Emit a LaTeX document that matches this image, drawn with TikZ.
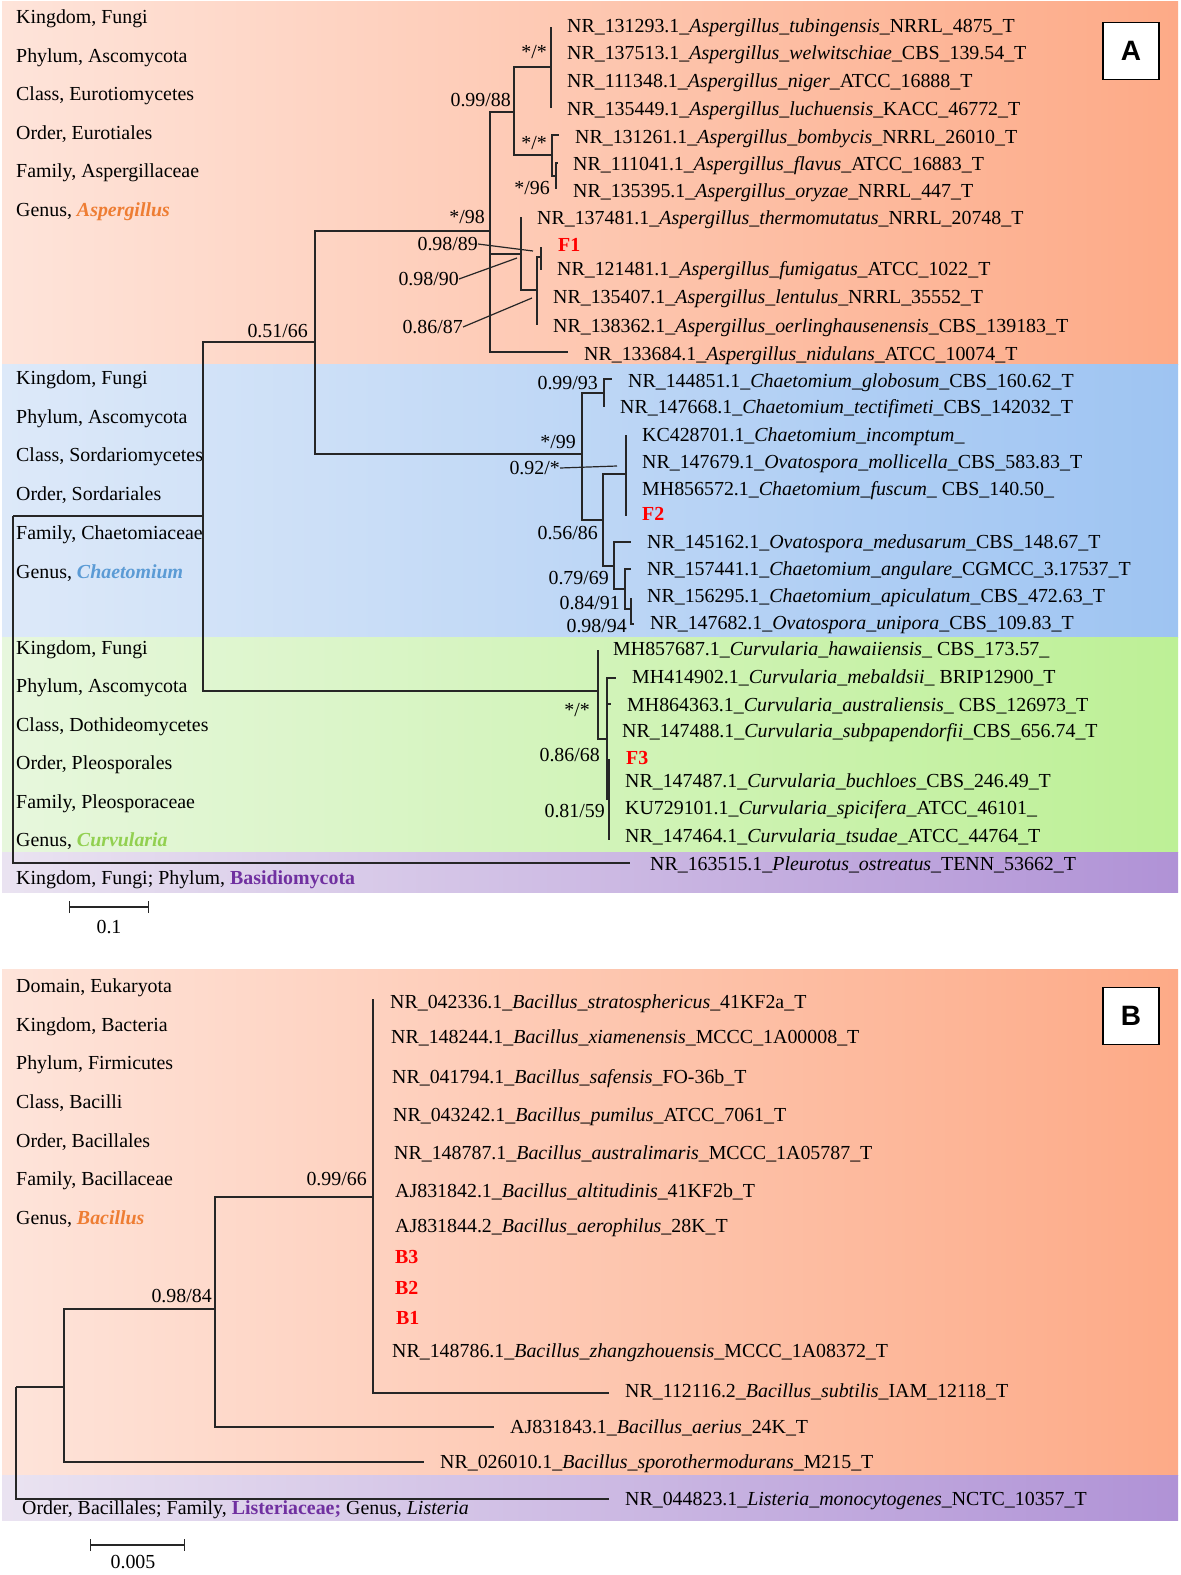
\documentclass[tikz,border=0pt]{standalone}
\usepackage{fontspec}
\setmainfont{Liberation Serif}
\newfontfamily\panelfont{Liberation Sans}
\usetikzlibrary{arrows.meta}
\definecolor{orL}{HTML}{FEE4DA}
\definecolor{orR}{HTML}{FDAA87}
\definecolor{blL}{HTML}{DDE9F9}
\definecolor{blR}{HTML}{9EC4F2}
\definecolor{grL}{HTML}{E7F7DD}
\definecolor{grR}{HTML}{BDF096}
\definecolor{puL}{HTML}{EAE3F1}
\definecolor{puR}{HTML}{B092D6}
\definecolor{tOr}{HTML}{EE7D33}
\definecolor{tBl}{HTML}{5B9BD5}
\definecolor{tGr}{HTML}{92D050}
\definecolor{tPu}{HTML}{7030A0}
\definecolor{tRd}{HTML}{FF0000}
\newcommand{\gen}[2]{\textbf{\textit{\textcolor{#1}{#2}}}}
\begin{document}
\begin{tikzpicture}[x=1pt,y=-1pt,
 font=\fontsize{19.9}{23}\selectfont,
 br/.style={line width=1.3pt,draw=black!85},
 lf/.style={anchor=west,inner sep=0pt,text height=12.8pt,text depth=0pt},
 sv/.style={anchor=east,inner sep=0pt,text height=12.8pt,text depth=0pt},
 iso/.style={lf,text=tRd,font=\fontsize{19.9}{23}\selectfont\bfseries},
 ptr/.style={line width=1.2pt,draw=black!85},
 panel/.style={draw=black,line width=1.5pt,fill=white,minimum width=56pt,minimum height=57pt,inner sep=0pt,font=\panelfont\fontsize{28}{30}\selectfont\bfseries}
]
\useasboundingbox (0,0) rectangle (1181,1575);
\fill[white] (0,0) rectangle (1181,1575);
% ---------- bands A ----------
\shade[left color=orL,right color=orR] (2,1) rectangle (1178,364);
\shade[left color=blL,right color=blR] (2,364) rectangle (1178,637);
\shade[left color=grL,right color=grR] (2,637) rectangle (1178,852);
\shade[left color=puL,right color=puR] (2,852) rectangle (1178,892);
\node[panel] (pA) at (1131,51) {A};
% ---------- taxonomy text A ----------
\node[lf] (ta1) at (16,17) {Kingdom, Fungi};
\node[lf] (ta2) at (16,56) {Phylum, Ascomycota};
\node[lf] (ta3) at (16,94) {Class, Eurotiomycetes};
\node[lf] (ta4) at (16,133) {Order, Eurotiales};
\node[lf] (ta5) at (16,171) {Family, Aspergillaceae};
\node[lf] (ta6) at (16,210) {Genus, \gen{tOr}{Aspergillus}};
\node[lf] (tb1) at (16,378) {Kingdom, Fungi};
\node[lf] (tb2) at (16,417) {Phylum, Ascomycota};
\node[lf] (tb3) at (16,455) {Class, Sordariomycetes};
\node[lf] (tb4) at (16,494) {Order, Sordariales};
\node[lf] (tb5) at (16,533) {Family, Chaetomiaceae};
\node[lf] (tb6) at (16,572) {Genus, \gen{tBl}{Chaetomium}};
\node[lf] (tc1) at (16,648) {Kingdom, Fungi};
\node[lf] (tc2) at (16,686) {Phylum, Ascomycota};
\node[lf] (tc3) at (16,725) {Class, Dothideomycetes};
\node[lf] (tc4) at (16,763) {Order, Pleosporales};
\node[lf] (tc5) at (16,802) {Family, Pleosporaceae};
\node[lf] (tc6) at (16,840) {Genus, \gen{tGr}{Curvularia}};
\node[lf] (td1) at (16,878) {Kingdom, Fungi; Phylum, \textbf{\textcolor{tPu}{Basidiomycota}}};
% ---------- leaves A ----------
\node[lf] (L1) at (567,26) {NR\_131293.1\_\textit{Aspergillus\_tubingensis}\_NRRL\_4875\_T};
\node[lf] (L2) at (567,53) {NR\_137513.1\_\textit{Aspergillus\_welwitschiae}\_CBS\_139.54\_T};
\node[lf] (L3) at (567,81) {NR\_111348.1\_\textit{Aspergillus\_niger}\_ATCC\_16888\_T};
\node[lf] (L4) at (567,109) {NR\_135449.1\_\textit{Aspergillus\_luchuensis}\_KACC\_46772\_T};
\node[lf] (L5) at (575,137) {NR\_131261.1\_\textit{Aspergillus\_bombycis}\_NRRL\_26010\_T};
\node[lf] (L6) at (573,164) {NR\_111041.1\_\textit{Aspergillus\_flavus}\_ATCC\_16883\_T};
\node[lf] (L7) at (573,191) {NR\_135395.1\_\textit{Aspergillus\_oryzae}\_NRRL\_447\_T};
\node[lf] (L8) at (537,218) {NR\_137481.1\_\textit{Aspergillus\_thermomutatus}\_NRRL\_20748\_T};
\node[iso] (F1) at (558,245) {F1};
\node[lf] (L10) at (557,269) {NR\_121481.1\_\textit{Aspergillus\_fumigatus}\_ATCC\_1022\_T};
\node[lf] (L11) at (553,297) {NR\_135407.1\_\textit{Aspergillus\_lentulus}\_NRRL\_35552\_T};
\node[lf] (L12) at (553,326) {NR\_138362.1\_\textit{Aspergillus\_oerlinghausenensis}\_CBS\_139183\_T};
\node[lf] (L13) at (584,354) {NR\_133684.1\_\textit{Aspergillus\_nidulans}\_ATCC\_10074\_T};
\node[lf] (C1) at (628,381) {NR\_144851.1\_\textit{Chaetomium\_globosum}\_CBS\_160.62\_T};
\node[lf] (C2) at (620,407) {NR\_147668.1\_\textit{Chaetomium\_tectifimeti}\_CBS\_142032\_T};
\node[lf] (C3) at (642,435) {KC428701.1\_\textit{Chaetomium\_incomptum}\_};
\node[lf] (C4) at (642,462) {NR\_147679.1\_\textit{Ovatospora\_mollicella}\_CBS\_583.83\_T};
\node[lf] (C5) at (642,489) {MH856572.1\_\textit{Chaetomium\_fuscum}\_ CBS\_140.50\_};
\node[iso] (F2) at (642,514) {F2};
\node[lf] (C7) at (647,542) {NR\_145162.1\_\textit{Ovatospora\_medusarum}\_CBS\_148.67\_T};
\node[lf] (C8) at (647,569) {NR\_157441.1\_\textit{Chaetomium\_angulare}\_CGMCC\_3.17537\_T};
\node[lf] (C9) at (647,596) {NR\_156295.1\_\textit{Chaetomium\_apiculatum}\_CBS\_472.63\_T};
\node[lf] (C10) at (650,623) {NR\_147682.1\_\textit{Ovatospora\_unipora}\_CBS\_109.83\_T};
\node[lf] (V1) at (613,649) {MH857687.1\_\textit{Curvularia\_hawaiiensis}\_ CBS\_173.57\_};
\node[lf] (V2) at (632,677) {MH414902.1\_\textit{Curvularia\_mebaldsii}\_ BRIP12900\_T};
\node[lf] (V3) at (627,705) {MH864363.1\_\textit{Curvularia\_australiensis}\_ CBS\_126973\_T};
\node[lf] (V4) at (622,731) {NR\_147488.1\_\textit{Curvularia\_subpapendorfii}\_CBS\_656.74\_T};
\node[iso] (F3) at (626,758) {F3};
\node[lf] (V6) at (625,781) {NR\_147487.1\_\textit{Curvularia\_buchloes}\_CBS\_246.49\_T};
\node[lf] (V7) at (625,808) {KU729101.1\_\textit{Curvularia\_spicifera}\_ATCC\_46101\_};
\node[lf] (V8) at (625,836) {NR\_147464.1\_\textit{Curvularia\_tsudae}\_ATCC\_44764\_T};
\node[lf] (P1) at (650,864) {NR\_163515.1\_\textit{Pleurotus\_ostreatus}\_TENN\_53662\_T};
% ---------- tree A coordinates ----------
\coordinate (rA) at (13,516);
\coordinate (asc) at (203,516);
\coordinate (tPle) at (630,863);
\coordinate (n315) at (315,342);
\coordinate (curv) at (598,691);
\coordinate (asp) at (490,231);
\coordinate (chae) at (582,454);
\coordinate (a17) at (514,112);
\coordinate (a812) at (521,254);
\coordinate (tA13) at (568,352);
\coordinate (a14) at (551,67);
\coordinate (tA1) at (551,27);
\coordinate (tA4) at (551,108);
\coordinate (a57) at (552,155);
\coordinate (tA5) at (559,135);
\coordinate (a67) at (556,176);
\coordinate (tA6) at (558,163);
\coordinate (tA7) at (556,189);
\coordinate (tA8) at (521,217);
\coordinate (a912) at (537,290);
\coordinate (aF1) at (541,257);
\coordinate (tF1) at (541,247);
\coordinate (tA10) at (541,270);
\coordinate (tA12) at (537,325);
\coordinate (cGT) at (604,393);
\coordinate (tGlob) at (612,379);
\coordinate (tTect) at (604,407);
\coordinate (cRest) at (603,520);
\coordinate (cF2) at (626,474);
\coordinate (tKC) at (626,435);
\coordinate (tF2) at (626,516);
\coordinate (cM) at (614,566);
\coordinate (tMed) at (631,542);
\coordinate (cA) at (625,589);
\coordinate (tAng) at (631,569);
\coordinate (cAU) at (631,609);
\coordinate (tApi) at (631,598);
\coordinate (tUni) at (634,624);
\coordinate (tHaw) at (598,650);
\coordinate (cC) at (607,739);
\coordinate (tMeb) at (616,678);
\coordinate (tAus) at (611,704);
\coordinate (cF3) at (609,799);
\coordinate (tF3) at (609,759);
\coordinate (tTsu) at (609,840);
% ---------- tree A branches ----------
\draw[br] (rA) |- (asc);
\draw[br] (rA) |- (tPle);
\draw[br] (asc) |- (n315);
\draw[br] (asc) |- (curv);
\draw[br] (n315) |- (asp);
\draw[br] (n315) |- (chae);
\draw[br] (asp) |- (a17);
\draw[br] (asp) |- (a812);
\draw[br] (asp) |- (tA13);
\draw[br] (a17) |- (a14);
\draw[br] (a17) |- (a57);
\draw[br] (a14) |- (tA1);
\draw[br] (a14) |- (tA4);
\draw[br] (a57) |- (tA5);
\draw[br] (a57) |- (a67);
\draw[br] (a67) |- (tA6);
\draw[br] (a67) |- (tA7);
\draw[br] (a812) |- (tA8);
\draw[br] (a812) |- (a912);
\draw[br] (a912) |- (aF1);
\draw[br] (a912) |- (tA12);
\draw[br] (aF1) |- (tF1);
\draw[br] (aF1) |- (tA10);
\draw[br] (chae) |- (cGT);
\draw[br] (chae) |- (cRest);
\draw[br] (cGT) |- (tGlob);
\draw[br] (cGT) |- (tTect);
\draw[br] (cRest) |- (cF2);
\draw[br] (cRest) |- (cM);
\draw[br] (cF2) |- (tKC);
\draw[br] (cF2) |- (tF2);
\draw[br] (cM) |- (tMed);
\draw[br] (cM) |- (cA);
\draw[br] (cA) |- (tAng);
\draw[br] (cA) |- (cAU);
\draw[br] (cAU) |- (tApi);
\draw[br] (cAU) |- (tUni);
\draw[br] (curv) |- (tHaw);
\draw[br] (curv) |- (cC);
\draw[br] (cC) |- (tMeb);
\draw[br] (cC) |- (tAus);
\draw[br] (cC) |- (cF3);
\draw[br] (cF3) |- (tF3);
\draw[br] (cF3) |- (tTsu);
% ---------- support values A ----------
\node[sv] (s1) at (547,52) {*/*};
\node[sv] (s2) at (511,100) {0.99/88};
\node[sv] (s3) at (547,143) {*/*};
\node[sv] (s4) at (550,188) {*/96};
\node[sv] (s5) at (485,217) {*/98};
\node[sv] (s6) at (478,244) {0.98/89};
\node[sv] (s7) at (459,279) {0.98/90};
\node[sv] (s8) at (463,327) {0.86/87};
\node[sv] (s9) at (308,331) {0.51/66};
\node[sv] (s10) at (598,383) {0.99/93};
\node[sv] (s11) at (576,442) {*/99};
\node[sv] (s12) at (560,468) {0.92/*};
\node[sv] (s13) at (598,533) {0.56/86};
\node[sv] (s14) at (609,578) {0.79/69};
\node[sv] (s15) at (620,603) {0.84/91};
\node[sv] (s16) at (627,626) {0.98/94};
\node[sv] (s17) at (590,710) {*/*};
\node[sv] (s18) at (600,755) {0.86/68};
\node[sv] (s19) at (605,811) {0.81/59};
\coordinate (p6) at (533,251);
\coordinate (p7) at (517,258);
\coordinate (p8) at (532,298);
\coordinate (p12) at (617,466);
\draw[ptr] (s6.east) -- (p6);
\draw[ptr] (s7.east) -- (p7);
\draw[ptr] (s8.east) -- (p8);
\draw[ptr] (s12.east) -- (p12);
% ---------- scale bar A ----------
\coordinate (sa1) at (69,907);
\coordinate (sa2) at (149,907);
\draw[br,{Bar[width=12pt]}-{Bar[width=12pt]}] (sa1) -- (sa2);
\node[inner sep=0pt,text height=12.8pt,text depth=0pt] (sal) at (109,927) {0.1};
% ================= panel B =================
\begin{scope}[yshift=-3pt]
\shade[left color=orL,right color=orR] (2,966) rectangle (1178,1472);
\shade[left color=puL,right color=puR] (2,1472) rectangle (1178,1517);
\node[panel] (pB) at (1131,1013) {B};
\node[lf] (tB1) at (16,983) {Domain, Eukaryota};
\node[lf] (tB2) at (16,1022) {Kingdom, Bacteria};
\node[lf] (tB3) at (16,1060) {Phylum, Firmicutes};
\node[lf] (tB4) at (16,1099) {Class, Bacilli};
\node[lf] (tB5) at (16,1138) {Order, Bacillales};
\node[lf] (tB6) at (16,1176) {Family, Bacillaceae};
\node[lf] (tB7) at (16,1215) {Genus, \gen{tOr}{Bacillus}};
\node[lf] (tB8) at (22,1505) {Order, Bacillales; Family, \textbf{\textcolor{tPu}{Listeriaceae;}} Genus, \textit{Listeria}};
\node[lf] (B01) at (390,999) {NR\_042336.1\_\textit{Bacillus\_stratosphericus}\_41KF2a\_T};
\node[lf] (B02) at (391,1034) {NR\_148244.1\_\textit{Bacillus\_xiamenensis}\_MCCC\_1A00008\_T};
\node[lf] (B03) at (392,1074) {NR\_041794.1\_\textit{Bacillus\_safensis}\_FO-36b\_T};
\node[lf] (B04) at (393,1112) {NR\_043242.1\_\textit{Bacillus\_pumilus}\_ATCC\_7061\_T};
\node[lf] (B05) at (394,1150) {NR\_148787.1\_\textit{Bacillus\_australimaris}\_MCCC\_1A05787\_T};
\node[lf] (B06) at (395,1188) {AJ831842.1\_\textit{Bacillus\_altitudinis}\_41KF2b\_T};
\node[lf] (B07) at (395,1223) {AJ831844.2\_\textit{Bacillus\_aerophilus}\_28K\_T};
\node[iso] (iB3) at (395,1254) {B3};
\node[iso] (iB2) at (395,1285) {B2};
\node[iso] (iB1) at (396,1315) {B1};
\node[lf] (B08) at (392,1348) {NR\_148786.1\_\textit{Bacillus\_zhangzhouensis}\_MCCC\_1A08372\_T};
\node[lf] (B09) at (625,1388) {NR\_112116.2\_\textit{Bacillus\_subtilis}\_IAM\_12118\_T};
\node[lf] (B10) at (510,1424) {AJ831843.1\_\textit{Bacillus\_aerius}\_24K\_T};
\node[lf] (B11) at (440,1459) {NR\_026010.1\_\textit{Bacillus\_sporothermodurans}\_M215\_T};
\node[lf] (B12) at (625,1496) {NR\_044823.1\_\textit{Listeria\_monocytogenes}\_NCTC\_10357\_T};
\coordinate (rB) at (16,1384);
\coordinate (b1) at (64,1384);
\coordinate (tList) at (609,1496);
\coordinate (b2) at (215,1306);
\coordinate (tSpo) at (424,1459);
\coordinate (b3) at (373,1194);
\coordinate (tAer) at (494,1424);
\coordinate (tTop) at (373,996);
\coordinate (tSubt) at (609,1390);
\draw[br] (rB) |- (b1);
\draw[br] (rB) |- (tList);
\draw[br] (b1) |- (b2);
\draw[br] (b1) |- (tSpo);
\draw[br] (b2) |- (b3);
\draw[br] (b2) |- (tAer);
\draw[br] (b3) |- (tTop);
\draw[br] (b3) |- (tSubt);
\node[sv] (sb1) at (367,1176) {0.99/66};
\node[sv] (sb2) at (212,1293) {0.98/84};
\coordinate (sb1a) at (90,1542);
\coordinate (sb1b) at (185,1542);
\draw[br,{Bar[width=12pt]}-{Bar[width=12pt]}] (sb1a) -- (sb1b);
\node[inner sep=0pt,text height=12.8pt,text depth=0pt] (sbl) at (133,1559) {0.005};
\end{scope}
\end{tikzpicture}
\end{document}
